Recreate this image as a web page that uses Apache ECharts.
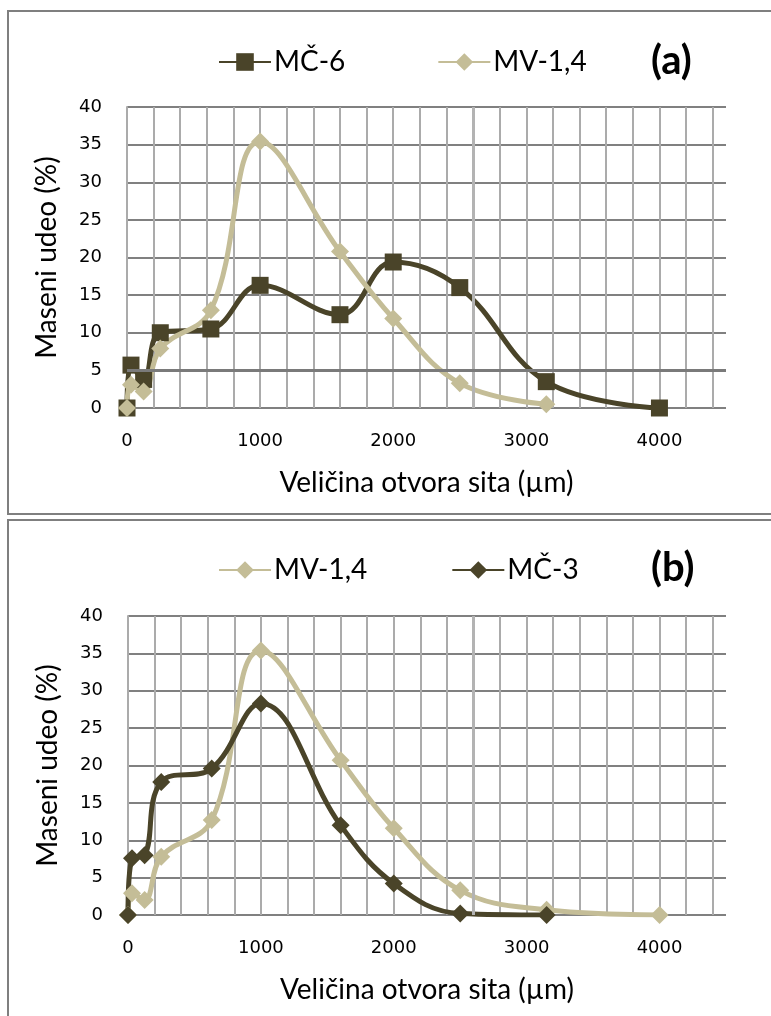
<!DOCTYPE html>
<html><head><meta charset="utf-8">
<script src="https://cdn.jsdelivr.net/npm/echarts@6/dist/echarts.min.js"></script>
<style>html,body{margin:0;padding:0;background:#fff}#c{width:771px;height:1016px}</style>
</head><body><div id="c"></div>
<script>
// sieve opening sizes (µm)
const sieveSizes = [0, 30, 125, 250, 630, 1000, 1600, 2000, 2500, 3150, 4000];
// panel (a)
const mc6   = [0, 5.7, 3.8, 10.0, 10.5, 16.3, 12.4, 19.4, 16.0, 3.5, 0];
const mv14a = [0, 3.1, 2.2, 7.9, 13.0, 35.4, 20.8, 11.9, 3.3, 0.5];
// panel (b)
const mv14b = [0, 2.9, 2.0, 7.8, 12.7, 35.4, 20.7, 11.6, 3.3, 0.7, 0];
const mc3   = [0, 7.6, 8.0, 17.8, 19.6, 28.3, 12.0, 4.2, 0.2, 0];
const xTickLabels = [0, 1000, 2000, 3000, 4000];
const yTickLabels = [0, 5, 10, 15, 20, 25, 30, 35, 40];
const xName = 'Veličina otvora sita (µm)';
const yName = 'Maseni udeo (%)';

const DARK = '#4A4429', LIGHT = '#C4BD97';
const titleFont = 'Lato';
const tickFont = 'DejaVu Sans';

function pairs(vals) { return vals.map((v, i) => [sieveSizes[i], v]); }

function xAxis(gi) {
  return {
    type: 'value', gridIndex: gi, min: 0, max: 4500, interval: 200,
    name: xName, nameLocation: 'middle', nameGap: 61,
    nameTextStyle: { fontFamily: titleFont, fontSize: 28, color: '#000' },
    axisLine: { show: false }, axisTick: { show: false },
    axisLabel: { margin: 24, fontFamily: tickFont, fontSize: 18, color: '#000',
      formatter: v => (xTickLabels.indexOf(v) >= 0 ? String(v) : '') },
    splitLine: { show: true, showMaxLine: false, lineStyle: { color: '#ababab', width: 2 } }
  };
}
function yAxis(gi) {
  return {
    type: 'value', gridIndex: gi, min: 0, max: 40, interval: 5,
    name: yName, nameLocation: 'middle', nameGap: 66,
    nameTextStyle: { fontFamily: titleFont, fontSize: 28, color: '#000' },
    axisLine: { show: true, lineStyle: { color: '#ababab', width: 2 } }, axisTick: { show: false },
    axisLabel: { margin: 25, fontFamily: tickFont, fontSize: 18, color: '#000',
      formatter: v => (yTickLabels.indexOf(v) >= 0 ? String(v) : '') },
    splitLine: { show: true, lineStyle: { color: '#808080', width: 2 } }
  };
}
function lineSeries(name, vals, gi, color, symbol) {
  return {
    name, type: 'line', xAxisIndex: gi, yAxisIndex: gi, z: 3,
    data: pairs(vals), smooth: 0.4, symbol, symbolSize: symbol === 'rect' ? 17 : 18,
    lineStyle: { color, width: 5 }, itemStyle: { color }, animation: false
  };
}
function artifactLines(gi, withH) {
  const d = [{ xAxis: 2600, lineStyle: { color: '#b3b3b3', width: 3, type: 'solid' } }];
  if (withH) d.push({ yAxis: 5, lineStyle: { color: '#7a7a7a', width: 3, type: 'solid' } });
  return { name: 'grid' + gi, type: 'line', xAxisIndex: gi, yAxisIndex: gi, z: 1, data: [],
    markLine: { silent: true, symbol: 'none', label: { show: false },
      lineStyle: { type: 'solid' }, data: d, animation: false } };
}

const legendText = { fontFamily: titleFont, fontSize: 28, color: '#000', padding: [0, 0, 0, -2] };
const option = {
  animation: false,
  backgroundColor: '#fff',
  grid: [
    { left: 127, top: 107, width: 599, height: 301 },
    { left: 128, top: 616, width: 598, height: 299 }
  ],
  xAxis: [xAxis(0), xAxis(1)],
  yAxis: [yAxis(0), yAxis(1)],
  legend: [
    { data: ['MČ-6', 'MV-1,4'], left: 218, top: 48, padding: 0, itemWidth: 52, itemHeight: 22, itemGap: 92,
      textStyle: legendText, selectedMode: false },
    { data: ['MV-1,4', 'MČ-3'], left: 218, top: 556, padding: 0, itemWidth: 52, itemHeight: 22, itemGap: 84,
      textStyle: legendText, selectedMode: false }
  ],
  series: [
    artifactLines(0, true),
    artifactLines(1, false),
    lineSeries('MČ-6', mc6, 0, DARK, 'rect'),
    lineSeries('MV-1,4', mv14a, 0, LIGHT, 'diamond'),
    lineSeries('MV-1,4', mv14b, 1, LIGHT, 'diamond'),
    lineSeries('MČ-3', mc3, 1, DARK, 'diamond')
  ],
  graphic: [
    { type: 'rect', shape: { x: 8, y: 11, width: 800, height: 503 }, style: { fill: null, stroke: '#7f7f7f', lineWidth: 2 }, silent: true },
    { type: 'rect', shape: { x: 8, y: 520, width: 800, height: 560 }, style: { fill: null, stroke: '#7f7f7f', lineWidth: 2 }, silent: true },
    { type: 'text', left: 651, top: 41, style: { text: '(a)', fontFamily: titleFont, fontWeight: 'bold', fontSize: 40, fill: '#000' } },
    { type: 'text', left: 651, top: 548, style: { text: '(b)', fontFamily: titleFont, fontWeight: 'bold', fontSize: 40, fill: '#000' } }
  ]
};
const chart = echarts.init(document.getElementById('c'), null, { renderer: 'canvas' });
chart.setOption(option);
</script></body></html>
